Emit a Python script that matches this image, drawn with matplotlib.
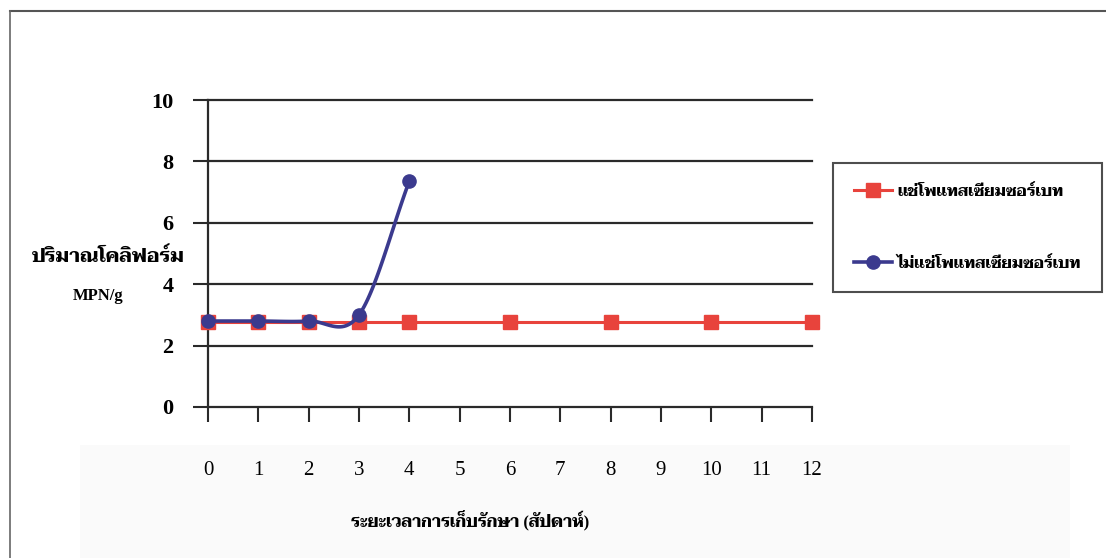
import matplotlib
matplotlib.use("Agg")
import matplotlib.pyplot as plt
import numpy as np
from matplotlib.lines import Line2D
from matplotlib.patches import Rectangle

# ---- data ----
categories = ["0", "1", "2", "3", "4", "5", "6", "7", "8", "9", "10", "11", "12"]
treated_idx = [0, 1, 2, 3, 4, 6, 8, 10, 12]
treated_vals = [2.78, 2.78, 2.78, 2.78, 2.78, 2.78, 2.78, 2.78, 2.78]
untreated_idx = [0, 1, 2, 3, 4]
untreated_vals = [2.8, 2.8, 2.8, 3.0, 7.36]
yticks = [0, 2, 4, 6, 8, 10]
label_treated = "แช่โพแทสเซียมซอร์เบท"
label_untreated = "ไม่แช่โพแทสเซียมซอร์เบท"
ylabel1 = "ปริมาณโคลิฟอร์ม"
ylabel2 = "MPN/g"
xlabel = "ระยะเวลาการเก็บรักษา (สัปดาห์)"

FAM = ["Liberation Serif", "Taviraj", "Noto Serif Thai", "DejaVu Sans"]
plt.rcParams["font.family"] = FAM

RED = "#e8433c"
BLUE = "#3b3a8e"
GRID = "#2a2a2a"


def catmull_rom(x, y, n=30):
    x = np.asarray(x, float)
    y = np.asarray(y, float)
    px = np.concatenate([[2 * x[0] - x[1]], x, [2 * x[-1] - x[-2]]])
    py = np.concatenate([[2 * y[0] - y[1]], y, [2 * y[-1] - y[-2]]])
    xs, ys = [], []
    for i in range(1, len(px) - 2):
        t = np.linspace(0, 1, n, endpoint=(i == len(px) - 3))
        for arr, out in ((px, xs), (py, ys)):
            p0, p1, p2, p3 = arr[i - 1], arr[i], arr[i + 1], arr[i + 2]
            out.extend(0.5 * ((2 * p1) + (-p0 + p2) * t
                              + (2 * p0 - 5 * p1 + 4 * p2 - p3) * t ** 2
                              + (-p0 + 3 * p1 - 3 * p2 + p3) * t ** 3))
    return np.array(xs), np.array(ys)


W, H = 1106, 558
fig = plt.figure(figsize=(W / 100, H / 100), dpi=100)
fig.patch.set_facecolor("white")

# faint band and outer frame
fig.patches.append(Rectangle((80 / W, 0), (1070 - 80) / W, 1 - 445 / H,
                             transform=fig.transFigure, facecolor="#fafafa",
                             edgecolor="none", zorder=-5))
fig.lines.append(Line2D([10 / W, 1.0], [1 - 11 / H, 1 - 11 / H],
                        transform=fig.transFigure, color="#555555", lw=1.5))
fig.lines.append(Line2D([10 / W, 10 / W], [0, 1 - 11 / H],
                        transform=fig.transFigure, color="#666666", lw=1.2))

left, right, top, bottom = 208, 812, 100, 407
ax = fig.add_axes([left / W, 1 - bottom / H, (right - left) / W, (bottom - top) / H])
ax.set_facecolor("none")
ax.set_zorder(2)
ax.set_xlim(0, len(categories) - 1)
ax.set_ylim(0, 10)

for s in ["top", "right"]:
    ax.spines[s].set_visible(False)
for s in ["left", "bottom"]:
    ax.spines[s].set_color(GRID)
    ax.spines[s].set_linewidth(1.6)

ax.set_yticks(yticks)
ax.set_yticklabels([str(v) for v in yticks], fontsize=16, fontweight="bold",
                   family=FAM)
ax.set_xticks(range(len(categories)))
ax.set_xticklabels(categories, fontsize=15, family=FAM)
ax.tick_params(axis="y", direction="out", length=11, width=1.5, color=GRID, pad=14)
ax.tick_params(axis="x", direction="out", length=11, width=1.5, color=GRID, pad=28)
for v in yticks[1:]:
    ax.axhline(v, color=GRID, lw=1.6, zorder=1, clip_on=False)

# treated series (red squares)
ax.plot(treated_idx, treated_vals, color=RED, lw=2.2, marker="s", ms=9.5,
        mfc=RED, mec=RED, zorder=3, clip_on=False)
# untreated series (blue circles, smoothed)
sx, sy = catmull_rom(untreated_idx, untreated_vals)
ax.plot(sx, sy, color=BLUE, lw=2.6, zorder=4, clip_on=False)
ax.plot(untreated_idx, untreated_vals, ls="none", marker="o", ms=9.5,
        mfc=BLUE, mec=BLUE, zorder=5, clip_on=False)

# axis titles
fig.text(108 / W, 1 - 257 / H, ylabel1, ha="center", va="center",
         fontsize=14, fontweight="bold", family=FAM)
fig.text(98 / W, 1 - 296 / H, ylabel2, ha="center", va="center",
         fontsize=12, fontweight="bold", family=FAM)
fig.text(470 / W, 1 - 521 / H, xlabel, ha="center", va="center",
         fontsize=12, fontweight="bold", family=FAM)

# legend
handles = [
    Line2D([], [], color=RED, lw=2.2, marker="s", ms=9.5, mfc=RED, mec=RED),
    Line2D([], [], color=BLUE, lw=2.6, marker="o", ms=9.5, mfc=BLUE, mec=BLUE),
]
leg = fig.legend(handles, [label_treated, label_untreated],
                 loc="upper left", bbox_to_anchor=(833 / W, 1 - 163 / H),
                 frameon=True, fancybox=False, edgecolor="#222222",
                 prop={"family": FAM, "size": 11.5, "weight": "bold"},
                 handlelength=2.4, handletextpad=0.3, labelspacing=3.5,
                 borderpad=1.3, borderaxespad=0)
leg.get_frame().set_linewidth(1.5)

fig.savefig("out.png", dpi=100, facecolor="white")
